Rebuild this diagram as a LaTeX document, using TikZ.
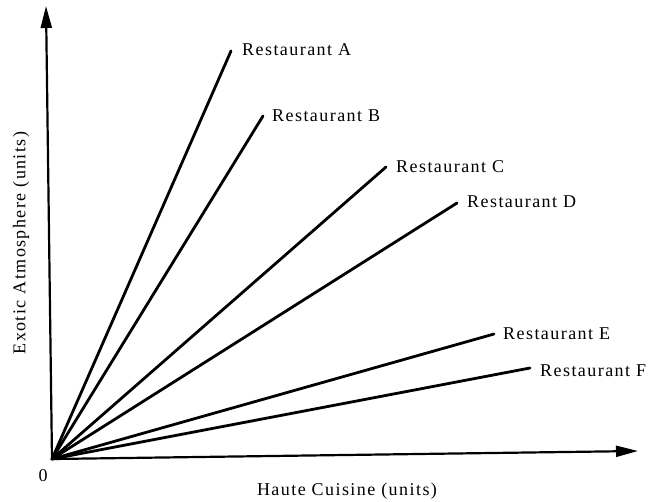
\documentclass[tikz,border=0pt]{standalone}
\usepackage{fontspec}
\setmainfont[LetterSpace=8]{Liberation Serif}
\usetikzlibrary{arrows.meta}
\begin{document}
\begin{tikzpicture}[x=1pt,y=-1pt,
  axis/.style={line width=2.2pt,-{Triangle[length=22pt,width=11pt]}},
  ray/.style={line width=2.8pt,line cap=round},
  lbl/.style={anchor=west,inner sep=0pt,font=\fontsize{18}{20}\selectfont},
  axlbl/.style={inner sep=0pt,font=\fontsize{18}{20}\selectfont}]
\useasboundingbox (0,0) rectangle (650,501);
\coordinate (O) at (52,459);
\coordinate (Ytip) at (46,6);
\coordinate (Xtip) at (638,451);
\draw[axis] (O) -- (Ytip);
\draw[axis] (O) -- (Xtip);
\coordinate (A) at (231,51);
\coordinate (B) at (263,116);
\coordinate (C) at (386,167);
\coordinate (D) at (457,203);
\coordinate (E) at (494,334);
\coordinate (F) at (530,368);
\foreach \p in {A,B,C,D,E,F} \draw[ray] (O) -- (\p);
\node[lbl] (lA) at (242,50) {Restaurant A};
\node[lbl] (lB) at (272,116) {Restaurant B};
\node[lbl] (lC) at (396,167) {Restaurant C};
\node[lbl] (lD) at (467,202) {Restaurant D};
\node[lbl] (lE) at (503,334) {Restaurant E};
\node[lbl] (lF) at (540,371) {Restaurant F};
\node[axlbl] (zero) at (43,476) {0};
\node[axlbl] (xl) at (347,491) {Haute Cuisine (units)};
\node[axlbl,rotate=90] (yl) at (21,243) {Exotic Atmosphere (units)};
\end{tikzpicture}
\end{document}
